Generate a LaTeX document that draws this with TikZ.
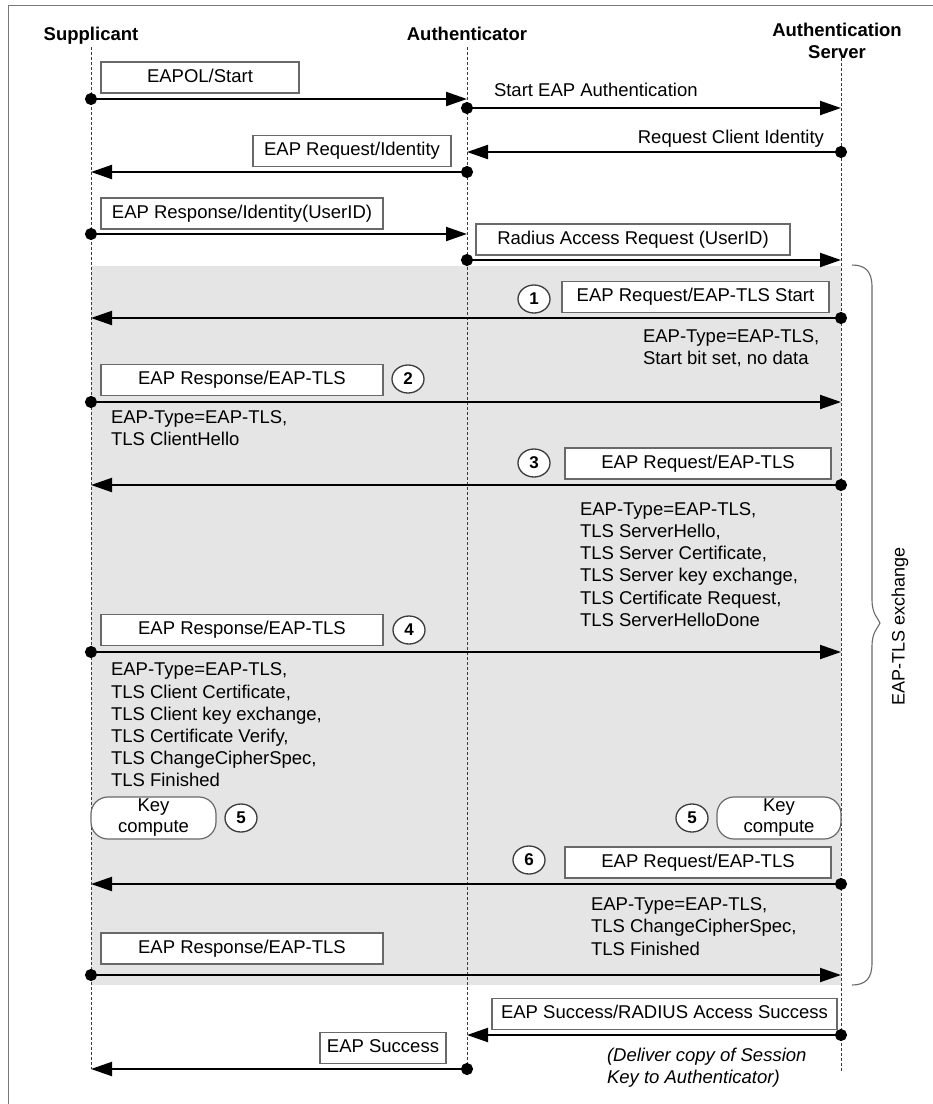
\documentclass[tikz,border=0pt]{standalone}
\usepackage{fontspec}
\setmainfont{Liberation Sans}
\usetikzlibrary{arrows.meta,shapes.geometric}

\definecolor{panel}{RGB}{229,229,229}
\definecolor{edge}{RGB}{105,105,105}
\definecolor{life}{RGB}{60,60,60}
\definecolor{framecol}{RGB}{120,120,120}

\newcommand{\lblfont}{\fontsize{18.5}{22.2}\selectfont}

\begin{document}
\begin{tikzpicture}[x=1pt,y=-1pt,
  every node/.style={inner sep=0pt, outer sep=0pt},
  lbl/.style={font=\lblfont, text height=13pt, text depth=4pt},
  para/.style={font=\lblfont, align=left, anchor=west},
  head/.style={font=\bfseries\fontsize{18.5}{21.7}\selectfont},
  msgbox/.style={draw=edge, line width=1.3pt, fill=white, minimum height=31pt,
                 font=\lblfont, text height=13pt, text depth=4pt},
  num/.style={ellipse, draw=life, line width=1.3pt, fill=white,
              minimum width=32pt, minimum height=28pt,
              font=\bfseries\fontsize{17}{17}\selectfont},
  keybox/.style={draw=edge, line width=1.2pt, fill=white, rounded corners=17pt,
                 minimum height=42pt, align=center, font=\fontsize{18.5}{21}\selectfont},
  lifeline/.style={draw=life, line width=0.9pt, dash pattern=on 3pt off 2pt},
  msg/.style={line width=2pt, {Circle[length=12pt]}-{Triangle[length=21pt,width=14pt]},
              shorten <=-6pt}
]
\useasboundingbox (0,0) rectangle (933,1104);

% outer frame
\draw[framecol, line width=1pt] (8,1104) -- (8,5) -- (933,5);

% shaded EAP-TLS exchange panel
\fill[panel] (91,266) rectangle (841,985);

% brace around the exchange
\draw[edge, line width=1.1pt]
  (852,265) .. controls (866,265) and (872,272) .. (872,287) -- (872,600)
  .. controls (872,614) and (878,618) .. (880,623)
  .. controls (878,628) and (872,632) .. (872,646) -- (872,963)
  .. controls (872,978) and (866,985) .. (852,985);
\node[font=\fontsize{18}{18}\selectfont, text height=13pt, text depth=4pt, rotate=90]
  (exch) at (900,626) {EAP-TLS exchange};

% parties
\node[head, text height=13pt, text depth=4pt] (sup) at (91,35.5) {Supplicant};
\node[head, text height=13pt, text depth=4pt] (auth) at (467,36) {Authenticator};
\node[head, align=center] (srv) at (837,41) {Authentication\\Server};

% lifelines
\coordinate (Stop) at (91,47);   \coordinate (Sbot) at (91,1069);
\coordinate (Atop) at (467,47);  \coordinate (Abot) at (467,1069);
\coordinate (Rtop) at (841,58);  \coordinate (Rbot) at (841,1072);
\draw[lifeline] (Stop) -- (Sbot);
\draw[lifeline] (Atop) -- (Abot);
\draw[lifeline] (Rtop) -- (Rbot);

% message end points on the lifelines
\coordinate (S1) at (91,99);    \coordinate (A1) at (467,99);
\coordinate (A2) at (467,108);  \coordinate (R2) at (841,108);
\coordinate (R3) at (841,152);  \coordinate (A3) at (467,152);
\coordinate (A4) at (467,172);  \coordinate (S4) at (91,172);
\coordinate (S5) at (91,234);   \coordinate (A5) at (467,234);
\coordinate (A6) at (467,260);  \coordinate (R6) at (841,260);
\coordinate (R7) at (841,318);  \coordinate (S7) at (91,318);
\coordinate (S8) at (91,402);   \coordinate (R8) at (841,402);
\coordinate (R9) at (841,485);  \coordinate (S9) at (91,485);
\coordinate (S10) at (91,652);  \coordinate (R10) at (841,652);
\coordinate (R11) at (841,884); \coordinate (S11) at (91,884);
\coordinate (S12) at (91,975);  \coordinate (R12) at (841,975);
\coordinate (R13) at (841,1035);\coordinate (A13) at (467,1035);
\coordinate (A14) at (467,1069);\coordinate (S14) at (91,1069);

% messages
\draw[msg] (S1) -- (A1);
\draw[msg] (A2) -- (R2);
\draw[msg] (R3) -- (A3);
\draw[msg] (A4) -- (S4);
\draw[msg] (S5) -- (A5);
\draw[msg] (A6) -- (R6);
\draw[msg] (R7) -- (S7);
\draw[msg] (S8) -- (R8);
\draw[msg] (R9) -- (S9);
\draw[msg] (S10) -- (R10);
\draw[msg] (R11) -- (S11);
\draw[msg] (S12) -- (R12);
\draw[msg] (R13) -- (A13);
\draw[msg] (A14) -- (S14);

% message boxes
\node[msgbox, minimum width=198pt] (b1)  at (200,77.5)   {EAPOL/Start};
\node[msgbox, minimum width=198pt] (b2)  at (352,151)    {EAP Request/Identity};
\node[msgbox, minimum width=282pt] (b3)  at (242,213.5)  {EAP Response/Identity(UserID)};
\node[msgbox, minimum width=314pt] (b4)  at (633,239.5)  {Radius Access Request (UserID)};
\node[msgbox, minimum width=267pt] (b5)  at (695.5,297)  {EAP Request/EAP-TLS Start};
\node[msgbox, minimum width=282pt] (b6)  at (242,380)    {EAP Response/EAP-TLS};
\node[msgbox, minimum width=266pt] (b7)  at (698,463.5)  {EAP Request/EAP-TLS};
\node[msgbox, minimum width=282pt] (b8)  at (242,630)    {EAP Response/EAP-TLS};
\node[msgbox, minimum width=266pt] (b9)  at (698,862.5)  {EAP Request/EAP-TLS};
\node[msgbox, minimum width=282pt] (b10) at (242,948.5)  {EAP Response/EAP-TLS};
\node[msgbox, minimum width=345pt] (b11) at (664.5,1014) {EAP Success/RADIUS Access Success};
\node[msgbox, minimum width=126pt] (b12) at (383,1048)   {EAP Success};

% plain labels
\node[lbl, anchor=west] (t1) at (494,92)  {Start EAP Authentication};
\node[lbl, anchor=east] (t2) at (824,139) {Request Client Identity};
\node[para] (t3) at (643,348.5) {EAP-Type=EAP-TLS,\\Start bit set, no data};
\node[para] (t4) at (111,428)   {EAP-Type=EAP-TLS,\\TLS ClientHello};
\node[para] (t5) at (580,564.5) {EAP-Type=EAP-TLS,\\TLS ServerHello,\\TLS Server Certificate,\\TLS Server key exchange,\\TLS Certificate Request,\\TLS ServerHelloDone};
\node[para] (t6) at (111,725)   {EAP-Type=EAP-TLS,\\TLS Client Certificate,\\TLS Client key exchange,\\TLS Certificate Verify,\\TLS ChangeCipherSpec,\\TLS Finished};
\node[para] (t7) at (591,926.5) {EAP-Type=EAP-TLS,\\TLS ChangeCipherSpec,\\TLS Finished};
\node[para, font=\lblfont\itshape] (t8) at (607,1068) {(Deliver copy of Session\\Key to Authenticator)};

% key computation
\node[keybox, minimum width=125pt] (k1) at (153.5,818) {Key\\compute};
\node[keybox, minimum width=124pt] (k2) at (779,818)   {Key\\compute};

% step numbers
\node[num] (n1)  at (534,299) {1};
\node[num] (n2)  at (408,379) {2};
\node[num] (n3)  at (534,463) {3};
\node[num] (n4)  at (409,630) {4};
\node[num] (n5a) at (241,818) {5};
\node[num] (n5b) at (692,818) {5};
\node[num] (n6)  at (529,860) {6};
\end{tikzpicture}
\end{document}
